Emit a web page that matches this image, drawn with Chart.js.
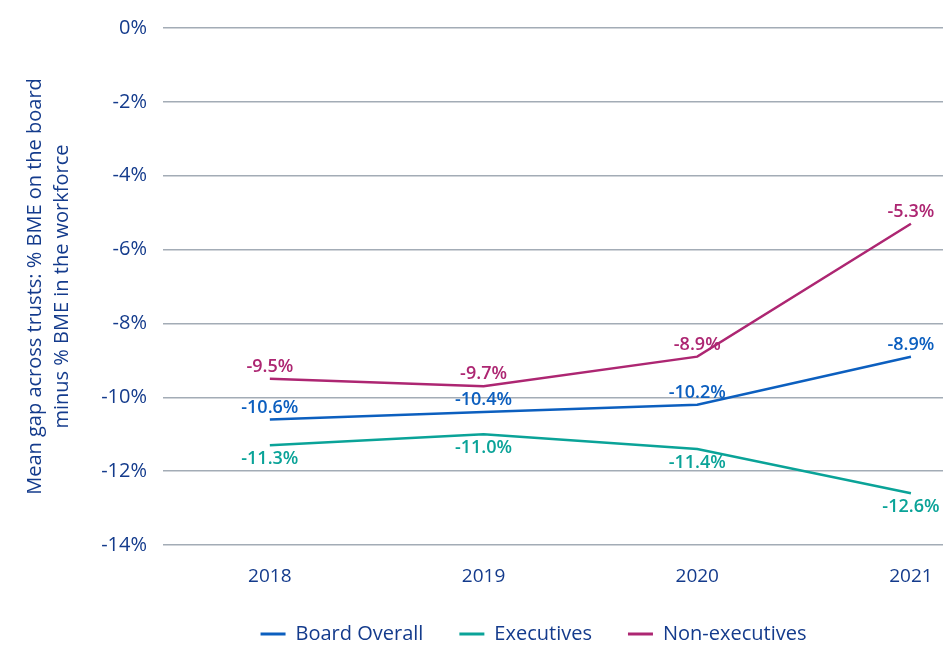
<!DOCTYPE html>
<html>
<head>
<meta charset="utf-8">
<script src="https://cdn.jsdelivr.net/npm/chart.js@4"></script>
<style>
  html, body { margin: 0; padding: 0; background: #fff; }
  #wrap { width: 943px; height: 647px; }
</style>
</head>
<body>
<div id="wrap"><canvas id="gapChart"></canvas></div>
<script>
const years = [2018, 2019, 2020, 2021];
const boardOverall = [-10.6, -10.4, -10.2, -8.9];
const executives = [-11.3, -11.0, -11.4, -12.6];
const nonExecutives = [-9.5, -9.7, -8.9, -5.3];
const yTicks = [0, -2, -4, -6, -8, -10, -12, -14];

const textBlue = '#143b8c';

// draws the value next to every point
const valueLabels = {
    id: 'valueLabels',
    afterDatasetsDraw(chart) {
        const ctx = chart.ctx;
        ctx.save();
        ctx.font = '600 18px "Open Sans"';
        ctx.textAlign = 'center';
        ctx.textBaseline = 'middle';
        chart.data.datasets.forEach(function (ds, i) {
            const meta = chart.getDatasetMeta(i);
            ctx.fillStyle = ds.borderColor;
            meta.data.forEach(function (pt, j) {
                const v = ds.data[j].y;
                const dy = ds.labelSide === 'below' ? 14 : -12;
                ctx.fillText(v.toFixed(1) + '%', pt.x, pt.y + dy);
            });
        });
        ctx.restore();
    }
};

// legend in the original sits a bit right of the page centre
const legendShift = {
    id: 'legendShift',
    afterLayout(chart) {
        const lg = chart.legend;
        lg.left = 124;
        lg.right = 943;
        lg.width = 819;
    }
};

function pairs(values) {
    return values.map(function (v, i) { return { x: years[i], y: v }; });
}

const ctx = document.getElementById('gapChart').getContext('2d');
const data = {
    datasets: [{
        label: 'Board Overall',
        data: pairs(boardOverall),
        borderColor: '#0c5fbf',
        backgroundColor: '#0c5fbf',
        labelSide: 'above'
    }, {
        label: 'Executives',
        data: pairs(executives),
        borderColor: '#0aa398',
        backgroundColor: '#0aa398',
        labelSide: 'below'
    }, {
        label: 'Non-executives',
        data: pairs(nonExecutives),
        borderColor: '#ad2672',
        backgroundColor: '#ad2672',
        labelSide: 'above'
    }]
};

const config = {
    type: 'line',
    data: data,
    options: {
        responsive: true,
        maintainAspectRatio: false,
        animation: false,
        elements: {
            line: { borderWidth: 2.5, tension: 0 },
            point: { radius: 0 }
        },
        layout: {
            padding: { top: 23, right: 0, bottom: 0, left: 0 }
        },
        plugins: {
            legend: {
                position: 'bottom',
                maxHeight: 59,
                labels: {
                    color: textBlue,
                    font: { family: 'Open Sans', size: 20 },
                    boxWidth: 25,
                    boxHeight: 3,
                    padding: 36,
                    generateLabels: function (chart) {
                        const items = Chart.defaults.plugins.legend.labels.generateLabels(chart);
                        items.forEach(function (it) { it.lineWidth = 0; });
                        return items;
                    }
                }
            },
            tooltip: { enabled: false }
        },
        scales: {
            x: {
                type: 'linear',
                min: 2017.5,
                max: 2021.15,
                afterBuildTicks: function (scale) {
                    scale.ticks = years.map(function (y) { return { value: y }; });
                },
                afterFit: function (scale) {
                    scale.height = 43;
                    scale.paddingLeft = 0;
                    scale.paddingRight = 0;
                },
                ticks: {
                    color: textBlue,
                    font: { family: 'Open Sans', size: 19 },
                    padding: 12,
                    callback: function (v) { return String(v); }
                },
                grid: { display: false },
                border: { display: false }
            },
            y: {
                min: -14,
                max: 0,
                afterBuildTicks: function (scale) {
                    scale.ticks = yTicks.map(function (v) { return { value: v }; });
                },
                afterFit: function (scale) { scale.width = 163; },
                ticks: {
                    color: textBlue,
                    font: { family: 'Open Sans', size: 20 },
                    padding: 16,
                    callback: function (v) { return v + '%'; }
                },
                grid: {
                    color: '#a3acb6',
                    lineWidth: 1.5,
                    drawTicks: false
                },
                border: { display: false },
                title: {
                    display: true,
                    text: ['Mean gap across trusts: % BME on the board', 'minus % BME in the workforce'],
                    color: textBlue,
                    font: { family: 'Open Sans', size: 20, lineHeight: 1.35 },
                    padding: { top: 22, bottom: 0 }
                }
            }
        }
    },
    plugins: [valueLabels, legendShift]
};

const gapChart = new Chart(ctx, config);
</script>
</body>
</html>
